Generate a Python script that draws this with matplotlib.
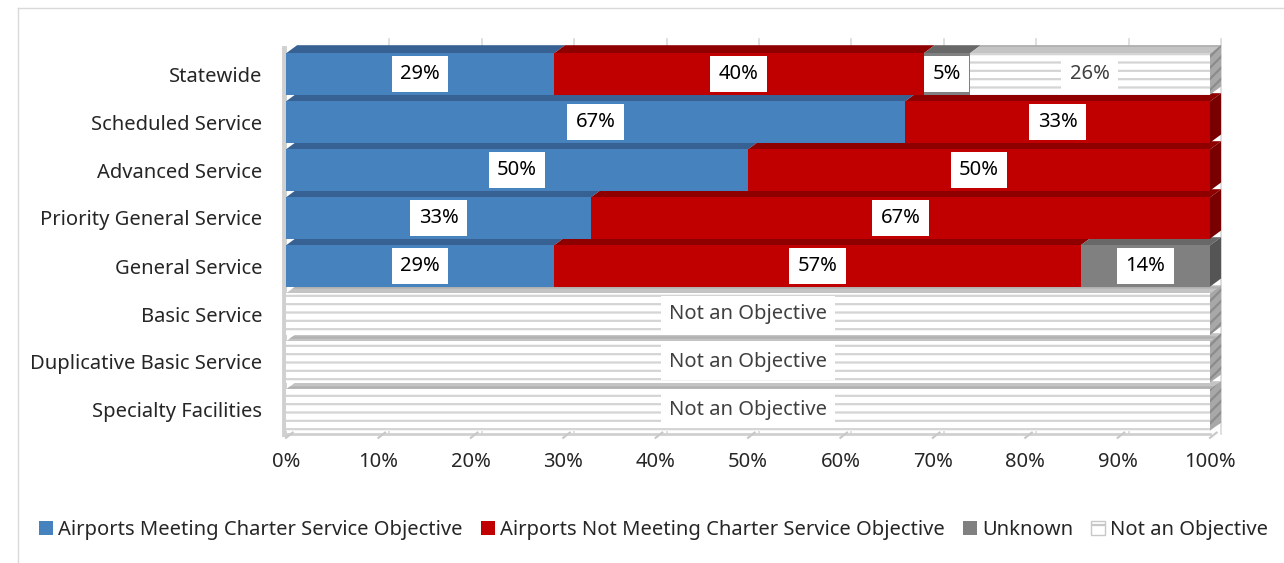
import matplotlib.pyplot as plt
import matplotlib as mpl
from matplotlib.patches import Patch, Polygon
from matplotlib.lines import Line2D

categories = ["Statewide", "Scheduled Service", "Advanced Service",
              "Priority General Service", "General Service", "Basic Service",
              "Duplicative Basic Service", "Specialty Facilities"]
meeting = [29, 67, 50, 33, 29, 0, 0, 0]
not_meeting = [40, 33, 50, 67, 57, 0, 0, 0]
unknown = [5, 0, 0, 0, 14, 0, 0, 0]
not_objective = [26, 0, 0, 0, 0, 100, 100, 100]
series_names = ["Airports Meeting Charter Service Objective",
                "Airports Not Meeting Charter Service Objective",
                "Unknown", "Not an Objective"]
xticks = list(range(0, 101, 10))

# (front, top, side, hatch, text colour)
STYLES = [
    ("#4682BE", "#376192", "#2d5078", None, "black"),
    ("#C00000", "#8E0000", "#780000", None, "black"),
    ("#808080", "#686868", "#555555", None, "black"),
    ("white", "#C4C4C4", "#A8A8A8", "--", "#404040"),
]
HATCH_COL = "#D4D4D4"
BAR_H = 0.86
DX = 1.2     # depth offset in x (data units)
DY = 0.17    # depth offset in y (rows)
FS = 14.5

mpl.rcParams["font.family"] = ["Noto Sans", "DejaVu Sans"]
mpl.rcParams["hatch.linewidth"] = 1.6

fig = plt.figure(figsize=(12.84, 5.63), dpi=100)
ax = fig.add_axes([286 / 1284, 1 - 434 / 563, 924 / 1284, 396 / 563])

# outer frame (left + top visible)
fig.add_artist(Line2D([18 / 1284, 18 / 1284], [0, 1 - 8 / 563], color="#D9D9D9", lw=1))
fig.add_artist(Line2D([18 / 1284, 1], [1 - 8 / 563, 1 - 8 / 563], color="#D9D9D9", lw=1))

# back-wall gridlines
for t in xticks[1:]:
    ax.plot([t + DX, t + DX], [-0.72, 7.5], color="#D9D9D9", lw=1.2, zorder=0, clip_on=False)
# left wall
ax.plot([-0.25, -0.25], [-0.55, 7.5], color="#D0D0D0", lw=3.5, zorder=0.5, clip_on=False)
# floor
ax.plot([0, 100], [7.5, 7.5], color="#D0D0D0", lw=2, zorder=0.5, clip_on=False)
for t in xticks:
    ax.plot([t, t + DX * 0.6], [7.58, 7.47], color="#C8C8C8", lw=1.5, zorder=0.5, clip_on=False)

series = [meeting, not_meeting, unknown, not_objective]
for i, cat in enumerate(categories):
    yt = i - BAR_H / 2
    yb = i + BAR_H / 2
    left = 0
    segs = []
    for k, vals in enumerate(series):
        v = vals[i]
        if v > 0:
            segs.append((k, left, left + v))
            left += v
    for j, (k, x0, x1) in enumerate(segs):
        front, top, side, hatch, tcol = STYLES[k]
        hec = HATCH_COL if hatch else "none"
        # top face
        ax.add_patch(Polygon([(x0, yt), (x1, yt), (x1 + DX, yt - DY), (x0 + DX, yt - DY)],
                             closed=True, fc=top, ec="#B0B0B0" if hatch else "none",
                             hatch=hatch, lw=0, zorder=1 + j * 0.01, clip_on=False))
        # front face
        ax.barh(i, x1 - x0, left=x0, height=BAR_H, color=front, edgecolor=hec,
                hatch=hatch, linewidth=0, zorder=3, clip_on=False)
        if j == len(segs) - 1:
            ax.add_patch(Polygon([(x1, yt), (x1 + DX, yt - DY), (x1 + DX, yb - DY), (x1, yb)],
                                 closed=True, fc=side, ec="#8C8C8C" if hatch else "none",
                                 hatch="///" if hatch else None, lw=0, zorder=2, clip_on=False))
        v = series[k][i]
        label = "Not an Objective" if v == 100 and k == 3 else f"{v}%"
        ax.text((x0 + x1) / 2, i, label, ha="center", va="center", fontsize=FS,
                color=tcol, zorder=5,
                bbox=dict(boxstyle="square,pad=0.42", fc="white", ec="none"))

ax.set_xlim(0, 100)
ax.set_ylim(7.5, -0.75)
ax.set_yticks(range(len(categories)))
ax.set_yticklabels(categories, fontsize=FS, color="#262626")
ax.set_xticks(xticks)
ax.set_xticklabels([f"{t}%" for t in xticks], fontsize=FS, color="#262626")
ax.tick_params(axis="y", length=0, pad=17)
ax.tick_params(axis="x", length=0, pad=13)
for s in ax.spines.values():
    s.set_visible(False)
ax.patch.set_visible(False)

handles = []
for k, name in enumerate(series_names):
    front, top, side, hatch, tcol = STYLES[k]
    if hatch:
        handles.append(Patch(facecolor="white", edgecolor="#C8C8C8", hatch="-", linewidth=1, label=name))
    else:
        handles.append(Patch(facecolor=front, edgecolor="none", label=name))
fig.legend(handles=handles, loc="center", bbox_to_anchor=(0.509, 1 - 530 / 563), ncol=4,
           frameon=False, fontsize=FS, handlelength=0.7, handleheight=0.7,
           handletextpad=0.25, columnspacing=0.9, labelcolor="#262626")

fig.savefig("out.png", dpi=100, facecolor="white")
